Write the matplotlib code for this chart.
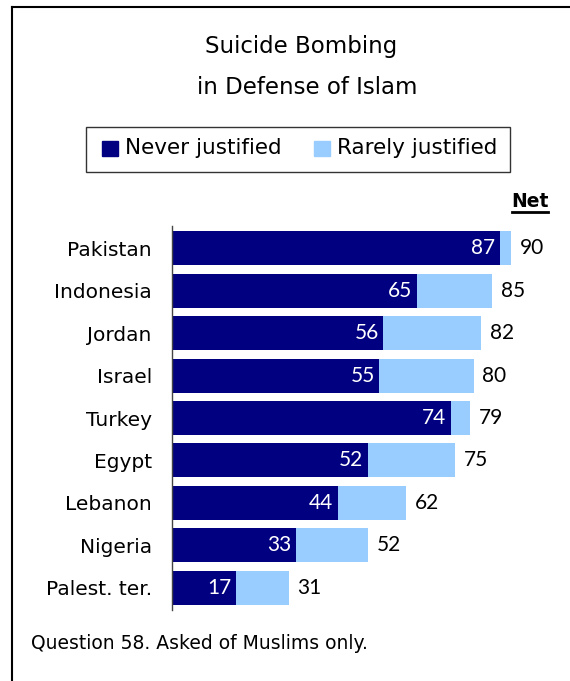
import matplotlib.pyplot as plt
from matplotlib.patches import Rectangle

countries = ['Pakistan', 'Indonesia', 'Jordan', 'Israel', 'Turkey',
             'Egypt', 'Lebanon', 'Nigeria', 'Palest. ter.']
never = [87, 65, 56, 55, 74, 52, 44, 33, 17]
rarely = [3, 20, 26, 25, 5, 23, 18, 19, 14]
net = [90, 85, 82, 80, 79, 75, 62, 52, 31]

navy = '#000080'
light = '#99CCFF'
plt.rcParams['font.family'] = ['DejaVu Sans']
numfont = ['Lato', 'DejaVu Sans']

fig = plt.figure(figsize=(5.7, 6.81), dpi=100)
W, H = 570, 681

# outer frame (left and top edges visible)
fig.add_artist(plt.Line2D([12 / W, 12 / W], [0, 1 - 7 / H], color='black', lw=1.5))
fig.add_artist(plt.Line2D([12 / W, 1], [1 - 7 / H, 1 - 7 / H], color='black', lw=1.5))

ax = fig.add_axes([172 / W, 1 - 610 / H, 377 / W, 384 / H])
y = list(range(len(countries)))
ax.barh(y, never, height=0.8, color=navy)
ax.barh(y, rarely, left=never, height=0.8, color=light)

for i in y:
    ax.text(never[i] - 1.2, i, str(never[i]), color='white', ha='right',
            va='center', fontsize=15, family=numfont)
    ax.text(net[i] + 2.3, i, str(net[i]), color='black', ha='left',
            va='center', fontsize=15, family=numfont)

ax.set_xlim(0, 100)
ax.set_ylim(8.52, -0.52)
ax.set_yticks(y)
ax.set_yticklabels(countries, fontsize=14.5)
ax.tick_params(axis='y', length=0, pad=14.5)
ax.set_xticks([])
for s in ['top', 'right', 'bottom']:
    ax.spines[s].set_visible(False)
ax.spines['left'].set_color('#444444')
ax.spines['left'].set_linewidth(1)

# title
fig.text(301 / W, 1 - 53 / H, 'Suicide Bombing', ha='center', va='baseline',
         fontsize=16.5)
fig.text(307 / W, 1 - 94 / H, 'in Defense of Islam', ha='center',
         va='baseline', fontsize=16.5)

# legend box
fig.add_artist(Rectangle((86 / W, 1 - 172 / H), 424 / W, 45 / H,
                         transform=fig.transFigure, fill=False,
                         edgecolor='#333333', lw=1))
fig.add_artist(Rectangle((102 / W, 1 - 156 / H), 16 / W, 15 / H,
                         transform=fig.transFigure, color=navy))
fig.text(125 / W, 1 - 154 / H, 'Never justified', ha='left', va='baseline',
         fontsize=15.5)
fig.add_artist(Rectangle((314 / W, 1 - 156 / H), 16 / W, 15 / H,
                         transform=fig.transFigure, color=light))
fig.text(337 / W, 1 - 154 / H, 'Rarely justified', ha='left', va='baseline',
         fontsize=15.5)

# net header
fig.text(530 / W, 1 - 207 / H, 'Net', ha='center', va='baseline',
         fontsize=13.5, fontweight='bold')
fig.add_artist(plt.Line2D([512 / W, 548 / W], [1 - 212 / H, 1 - 212 / H],
                          color='black', lw=2))

fig.text(31 / W, 1 - 649 / H, 'Question 58. Asked of Muslims only.',
         ha='left', va='baseline', fontsize=13.5)

fig.savefig('out.png', dpi=100)
